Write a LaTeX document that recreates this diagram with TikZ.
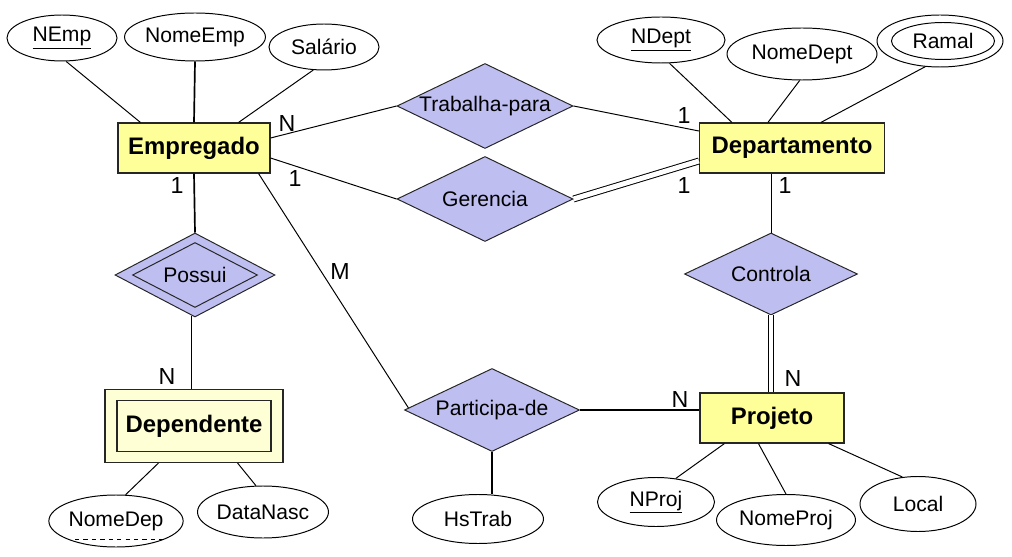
\documentclass[tikz,border=0pt]{standalone}
\usepackage{fontspec}
\setmainfont{Liberation Sans}
\usetikzlibrary{shapes.geometric,calc}
\definecolor{entfill}{RGB}{255,255,153}
\definecolor{weakfill}{RGB}{255,255,214}
\definecolor{relfill}{RGB}{190,190,240}
\begin{document}
\begin{tikzpicture}[x=0.025cm,y=-0.025cm,
  wh/.style 2 args={minimum width=#1*0.025cm, minimum height=#2*0.025cm},
  ent/.style={draw=black!85, fill=entfill, line width=0.8pt, inner sep=0pt,
    font=\fontsize{17}{20}\selectfont\bfseries},
  weak/.style={draw=black!85, fill=weakfill, line width=0.8pt, inner sep=0pt,
    font=\fontsize{17}{20}\selectfont\bfseries},
  attr/.style={ellipse, draw, line width=0.7pt, inner sep=0pt, fill=white,
    font=\fontsize{15}{18}\selectfont},
  rel/.style={diamond, draw=black!85, fill=relfill, line width=0.7pt, inner sep=0pt,
    font=\fontsize{15}{18}\selectfont},
  card/.style={inner sep=0pt, font=\fontsize{16.5}{19}\selectfont},
  conn/.style={line width=0.7pt},
  thick conn/.style={line width=1.2pt},
  dbl/.style={double, double distance=3.5pt, line width=0.7pt}
]
\useasboundingbox (0,0) rectangle (1012,557);

% entities
\node[ent, wh={152}{50}] (emp) at (194,148) {Empregado};
\node[ent, wh={185}{50}] (dep) at (792,148) {Departamento};
\node[ent, wh={144}{50}] (proj) at (772,418) {Projeto};
\node[weak, wh={178}{73}] (depd) at (194,426) {};
\node[weak, wh={154}{51}] (depdin) at (194,426) {Dependente};

% relationships
\node[rel, wh={176}{85}] (trab) at (485,106) {\makebox[0pt]{Trabalha-para}};
\node[rel, wh={176}{85}] (ger) at (485,199) {\makebox[0pt]{Gerencia}};
\node[rel, wh={173}{82}] (ctrl) at (771,274) {\makebox[0pt]{Controla}};
\node[rel, wh={175}{83}] (part) at (492,410) {\makebox[0pt]{Participa-de}};
\node[rel, wh={160}{84}] (possui) at (195,275) {};
\node[rel, wh={125}{65}] (possuiin) at (195,275) {\makebox[0pt]{Possui}};

% attributes
\node[attr, wh={110}{46}] (nemp) at (62,38) {\underline{NEmp}};
\node[attr, wh={130}{48}] (nomeemp) at (195,37) {NomeEmp};
\node[attr, wh={110}{46}] (sal) at (324,47) {Salário};
\node[attr, wh={128}{46}] (ndept) at (661,40) {\underline{NDept}};
\node[attr, wh={150}{52}] (nomedept) at (802,54) {NomeDept};
\node[attr, wh={126}{52}] (ramal) at (940,41) {};
\node[attr, wh={103}{37}] (ramalin) at (943,41) {Ramal};
\node[attr, wh={132}{52}] (nomedep) at (116,521) {NomeDep};
\node[attr, wh={130}{52}] (datanasc) at (263,512) {DataNasc};
\node[attr, wh={131}{49}] (hstrab) at (478,519) {HsTrab};
\node[attr, wh={117}{49}] (nproj) at (656,502) {\underline{NProj}};
\node[attr, wh={139}{51}] (nomeproj) at (786,520) {NomeProj};
\node[attr, wh={116}{55}] (local) at (918,504) {Local};
\draw[dashed, line width=0.6pt] ($(nomedep.center)+(-41,18)$) -- ++(88,0);

% attribute connectors
\draw[conn] (nemp.-80) -- ($(emp.north west)+(23,0)$);
\draw[thick conn] (nomeemp.south) -- (emp.north);
\draw[conn] (sal.-115) -- ($(emp.north east)+(-32,0)$);
\draw[conn] (ndept.-70) -- ($(dep.north west)+(33,0)$);
\draw[conn] (nomedept.-95) -- ($(dep.north west)+(69,0)$);
\draw[conn] (ramal.-120) -- ($(dep.north west)+(122,0)$);
\draw[conn] (nomedep.70) -- ($(depd.south west)+(54,0)$);
\draw[conn] (datanasc.105) -- ($(depd.south east)+(-46,0)$);
\draw[thick conn] (part.south) -- (part.south |- hstrab.north);
\draw[conn] (nproj.50) -- ($(proj.south west)+(25,0)$);
\draw[conn] (nomeproj.north) -- ($(proj.south west)+(59,0)$);
\draw[conn] (local.120) -- ($(proj.south east)+(-16,0)$);

% relationship connectors
\draw[conn] ($(emp.east)+(0,-10)$) -- (trab.west);
\draw[conn] (trab.east) -- ($(dep.west)+(0,-17)$);
\draw[conn] ($(emp.east)+(0,10)$) -- (ger.west);
\draw[dbl] (ger.east) -- ($(dep.west)+(0,13)$);
\draw[conn] ($(dep.south)+(-21,0)$) -- (ctrl.north);
\draw[dbl] (ctrl.south) -- (ctrl.south |- proj.north);
\draw[thick conn] (part.east) -- (part.east -| proj.west);
\draw[conn] ($(emp.south east)+(-12,0)$) -- ($(part.west)!0.05!(part.north)$);
\draw[thick conn] (emp.south) -- (possui.north);
\draw[conn] (possui.-95) -- (possui.-95 |- depd.north);

% cardinalities
\node[card] (c1) at (287,124) {N};
\node[card] (c2) at (295,179) {1};
\node[card] (c3) at (177,186) {1};
\node[card] (c4) at (684,116) {1};
\node[card] (c5) at (684,186) {1};
\node[card] (c6) at (785,186) {1};
\node[card] (c7) at (340,272) {M};
\node[card] (c8) at (167,377) {N};
\node[card] (c9) at (680,400) {N};
\node[card] (c10) at (793,379) {N};
\end{tikzpicture}
\end{document}
